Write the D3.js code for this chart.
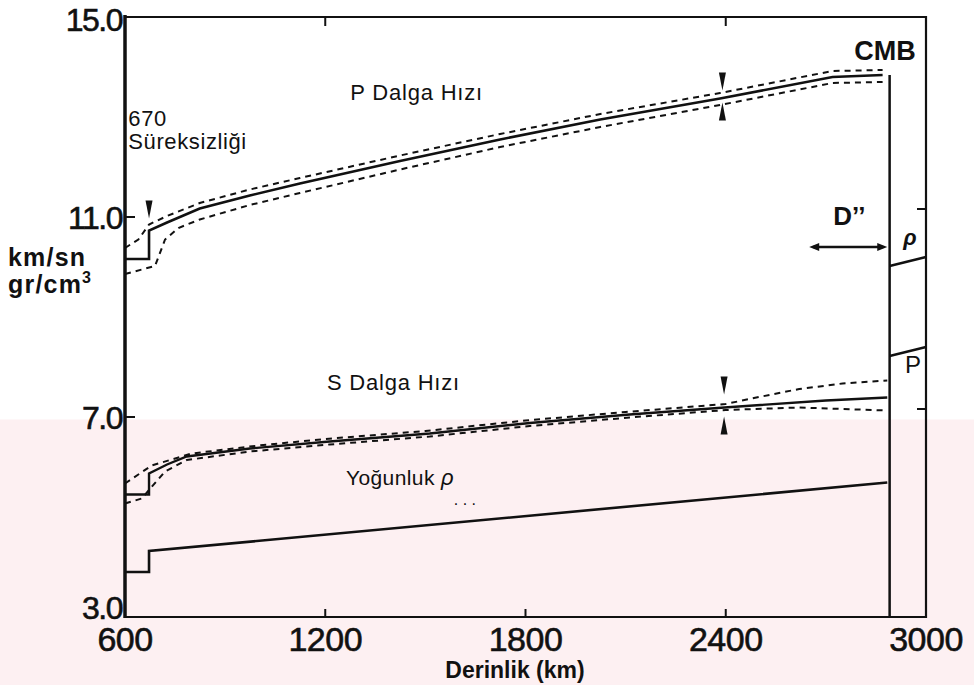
<!DOCTYPE html>
<html>
<head>
<meta charset="utf-8">
<script src="https://cdn.jsdelivr.net/npm/d3@7"></script>
<style>
  body { margin: 0; background: #fff; }
  svg { display: block; }
  text { font-family: "Liberation Sans", Arial, Helvetica, sans-serif; fill: #111; }
</style>
</head>
<body>
<svg id="chart" width="974" height="685"></svg>
<script>
// depth (km) / value pairs
const depthTicks = [600, 1200, 1800, 2400, 3000];
const valueTicks = [3, 7, 11, 15];
const valueTickLabels = ["3.0", "7.0", "11.0", "15.0"];

// P wave velocity (km/sn)
const pSolid = [[600, 10.16], [672, 10.16], [672, 10.73], [726, 10.89], [824, 11.17], [974, 11.43],
    [1124, 11.67], [1424, 12.12], [1724, 12.55], [2024, 12.95], [2383, 13.37], [2720, 13.80], [2870, 13.84]];
const pUpper = [[600, 10.38], [640, 10.55], [672, 10.85], [726, 11.02], [824, 11.28], [974, 11.55],
    [1124, 11.78], [1424, 12.23], [1724, 12.66], [2024, 13.06], [2383, 13.48], [2720, 13.92], [2870, 13.94]];
const pLower = [[600, 9.86], [690, 10.02], [720, 10.55], [760, 10.78], [824, 10.95], [974, 11.24],
    [1124, 11.48], [1424, 11.95], [1724, 12.40], [2024, 12.80], [2383, 13.24], [2720, 13.68], [2870, 13.70]];

// S wave velocity (km/sn)
const sSolid = [[600, 5.45], [672, 5.45], [672, 5.87], [726, 6.05], [785, 6.21], [974, 6.37], [1213, 6.51],
    [1513, 6.67], [1813, 6.88], [2112, 7.05], [2396, 7.19], [2700, 7.33], [2884, 7.39]];
const sUpper = [[600, 5.67], [640, 5.85], [680, 6.03], [740, 6.15], [800, 6.27], [1000, 6.43], [1200, 6.56],
    [1500, 6.72], [1800, 6.93], [2100, 7.10], [2400, 7.26], [2500, 7.40], [2620, 7.56], [2750, 7.67], [2884, 7.73]];
const sLower = [[600, 5.27], [650, 5.37], [720, 5.91], [785, 6.14], [974, 6.31], [1213, 6.45],
    [1513, 6.61], [1813, 6.82], [2112, 6.99], [2400, 7.14], [2620, 7.19], [2884, 7.13]];

// density (gr/cm3)
const rhoSolid = [[600, 3.90], [672, 3.90], [672, 4.32], [2884, 5.69]];

// core side (beyond CMB)
const cmbDepth = 2891;
const coreRho = [[2891, 10.02], [3000, 10.20]];
const coreP = [[2891, 8.22], [3000, 8.40]];

// error markers [depth, tip value, direction]
const markers = [[672, 10.97, "down"], [2390, 13.53, "down"], [2390, 13.29, "up"],
    [2395, 7.45, "down"], [2395, 7.01, "up"]];

const svg = d3.select("#chart");

const x = d3.scaleLinear().domain([600, 3000]).range([125, 926]);
const y = d3.scaleLinear().domain([3, 15]).range([617, 17]);

const line = d3.line().x(d => x(d[0])).y(d => y(d[1]));

// faint pink tint of the scanned page (lower part)
svg.append("rect")
    .attr("x", 0).attr("y", y(6.95)).attr("width", 974).attr("height", 685 - y(6.95))
    .attr("fill", "#fdf0f2");

// frame
svg.append("path")
    .attr("d", `M${x(600)},${y(15)} H${x(3000)} V${y(3)} H${x(600)}`)
    .attr("fill", "none").attr("stroke", "#111").attr("stroke-width", 2.2);
svg.append("line")
    .attr("x1", x(600)).attr("x2", x(600)).attr("y1", y(15) - 2).attr("y2", y(3) + 1)
    .attr("stroke", "#111").attr("stroke-width", 3.5);

// CMB vertical line
svg.append("line")
    .attr("x1", x(cmbDepth)).attr("x2", x(cmbDepth))
    .attr("y1", y(13.84)).attr("y2", y(3))
    .attr("stroke", "#111").attr("stroke-width", 2.5);

// inward ticks
const g = svg.append("g").attr("stroke", "#111").attr("stroke-width", 2);
[11, 7].forEach(v => {
    g.append("line").attr("x1", x(600)).attr("x2", x(600) + 10).attr("y1", y(v)).attr("y2", y(v));
    g.append("line").attr("x1", x(3000)).attr("x2", x(3000) - 9).attr("y1", y(v) - 8).attr("y2", y(v) - 8);
});
[1200, 1800, 2400].forEach(d => {
    g.append("line").attr("x1", x(d)).attr("x2", x(d)).attr("y1", y(3)).attr("y2", y(3) - 8);
});
[1200, 2400].forEach(d => {
    g.append("line").attr("x1", x(d)).attr("x2", x(d)).attr("y1", y(15)).attr("y2", y(15) + 9);
});

// tick labels
svg.selectAll(".ylab")
    .data(valueTicks)
    .enter().append("text")
    .attr("class", "ylab")
    .attr("x", x(600) - 3)
    .attr("y", d => y(d))
    .attr("dy", d => d === 3 ? "0.05em" : d === 15 ? "0.44em" : "0.36em")
    .attr("text-anchor", "end")
    .style("font-size", "32px")
    .style("letter-spacing", "-1.5px")
    .style("stroke", "#111").style("stroke-width", 0.6)
    .text((d, i) => valueTickLabels[i]);

svg.selectAll(".xlab")
    .data(depthTicks)
    .enter().append("text")
    .attr("class", "xlab")
    .attr("x", d => x(d))
    .attr("y", 651)
    .attr("text-anchor", "middle")
    .style("font-size", "34px")
    .style("letter-spacing", "-0.5px")
    .style("stroke", "#111").style("stroke-width", 0.6)
    .text(d => d);

// axis titles
svg.append("text").attr("x", 515).attr("y", 678).attr("text-anchor", "middle")
    .style("font-size", "23px").style("font-weight", "bold").text("Derinlik (km)");
svg.append("text").attr("x", 8).attr("y", 266)
    .style("font-size", "25px").style("font-weight", "bold").style("letter-spacing", "1.2px").text("km/sn");
const gr = svg.append("text").attr("x", 8).attr("y", 293)
    .style("font-size", "25px").style("font-weight", "bold").style("letter-spacing", "1.2px");
gr.append("tspan").text("gr/cm");
gr.append("tspan").attr("dy", -10).style("font-size", "16px").text("3");

// curves
function drawCurve(data, dashed, width) {
    svg.append("path")
        .datum(data)
        .attr("d", line)
        .attr("fill", "none")
        .attr("stroke", "#111")
        .attr("stroke-width", width)
        .attr("stroke-dasharray", dashed ? "6,5" : null);
}
drawCurve(pUpper, true, 2);
drawCurve(pLower, true, 2);
drawCurve(pSolid, false, 2.6);
drawCurve(sUpper, true, 2);
drawCurve(sLower, true, 2);
drawCurve(sSolid, false, 2.4);
drawCurve(rhoSolid, false, 2.6);
drawCurve(coreRho, false, 2.4);
drawCurve(coreP, false, 2.4);

// error markers
markers.forEach(m => {
    const mx = x(m[0]), my = y(m[1]);
    const h = 18, w = 3.5;
    const s = m[2] === "down" ? -1 : 1;
    svg.append("path")
        .attr("d", `M${mx},${my} L${mx - w},${my + s * h} L${mx + w},${my + s * h} Z`)
        .attr("fill", "#111");
});

// D'' arrow
const arrowY = y(10.4);
const ax1 = x(2662), ax2 = x(2872);
svg.append("line").attr("x1", ax1).attr("x2", ax2).attr("y1", arrowY).attr("y2", arrowY)
    .attr("stroke", "#111").attr("stroke-width", 2.5);
svg.append("path").attr("d", `M${ax1 - 4},${arrowY} l10,-4 l0,8 Z`).attr("fill", "#111");
svg.append("path").attr("d", `M${ax2 + 4},${arrowY} l-10,-4 l0,8 Z`).attr("fill", "#111");

// annotations
function label(txt, d, v, size, opts = {}) {
    const t = svg.append("text")
        .attr("x", x(d)).attr("y", y(v))
        .style("font-size", size + "px")
        .style("font-weight", opts.bold ? "bold" : "normal")
        .style("font-style", opts.italic ? "italic" : "normal")
        .style("letter-spacing", opts.ls || "0px")
        .text(txt);
    return t;
}
label("P Dalga Hızı", 1275, 13.35, 22, { ls: "0.8px" });
label("670", 610, 12.82, 22, { ls: "0.6px" });
label("Süreksizliği", 610, 12.37, 22, { ls: "0.6px" });
label("S Dalga Hızı", 1205, 7.55, 22, { ls: "0.8px" });
const yog = label("Yoğunluk ", 1262, 5.65, 21, { ls: "0.4px" });
yog.append("tspan").style("font-style", "italic").style("font-size", "22px").text("ρ");
label(". . .", 1585, 5.25, 16);
label("CMB", 2785, 14.15, 27, { bold: true });
label("D\u2019\u2019", 2722, 10.84, 26, { bold: true });
label("ρ", 2932, 10.45, 22, { bold: true, italic: true });
label("P", 2937, 7.88, 24, { bold: false });
</script>
</body>
</html>
